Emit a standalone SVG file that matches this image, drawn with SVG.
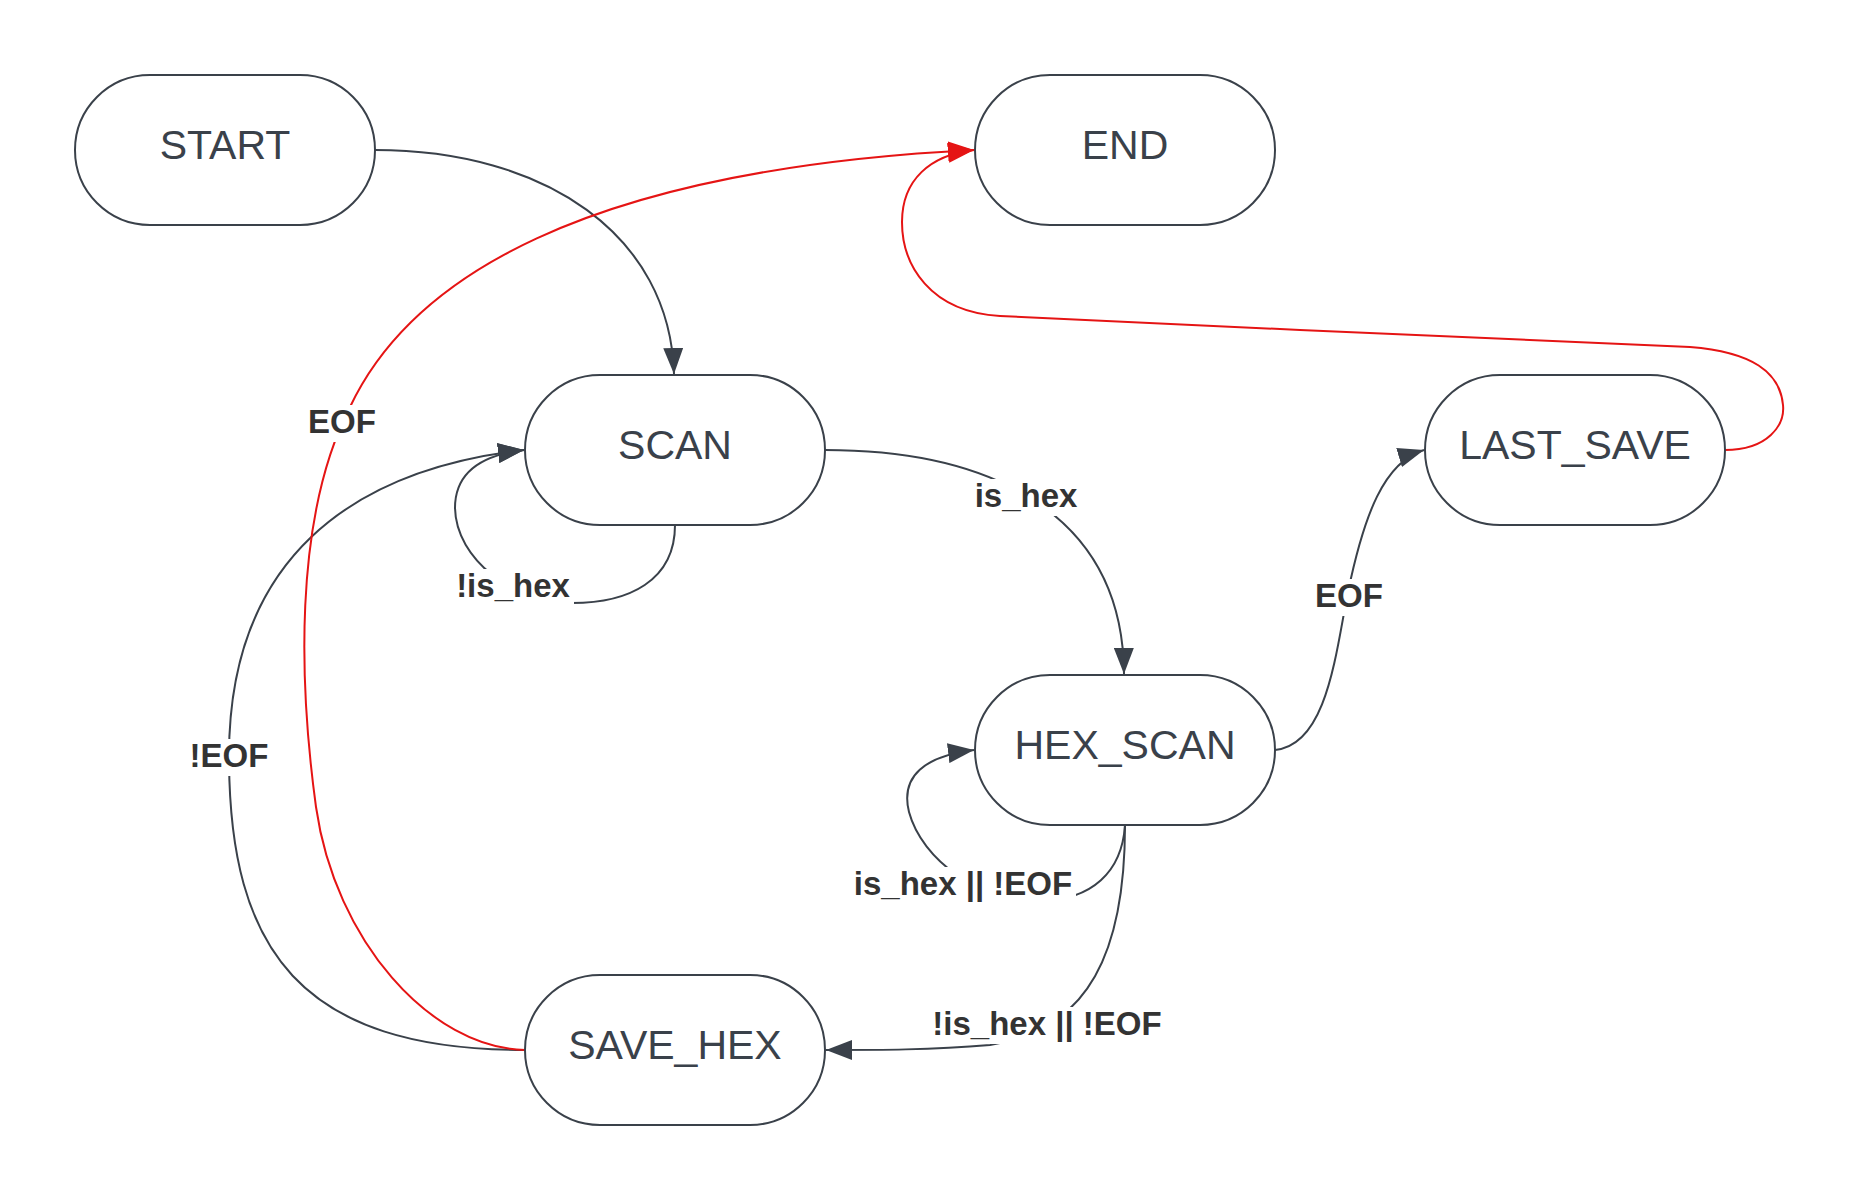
<svg xmlns="http://www.w3.org/2000/svg" width="1860" height="1200" viewBox="0 0 1860 1200">
<style>
.node rect{fill:#ffffff;stroke:#3a414a;stroke-width:2}
.node text{font-family:"Liberation Sans",Arial,sans-serif;font-size:41px;fill:#3a414a;text-anchor:middle}
.edge{fill:none;stroke:#3a414a;stroke-width:2}
.edge.red{stroke:#e51414}
.bg{fill:#ffffff}
.lbl{font-family:"Liberation Sans",Arial,sans-serif;font-size:33px;font-weight:bold;fill:#333333;text-anchor:middle}
</style>
<defs>
<marker id="arr" markerUnits="userSpaceOnUse" viewBox="0 0 26 20" refX="26" refY="10" markerWidth="26" markerHeight="20" orient="auto">
<path d="M0,0 L26,10 L0,20 z" fill="#3a414a"/>
</marker>
<marker id="arrRed" markerUnits="userSpaceOnUse" viewBox="0 0 26 20" refX="26" refY="10" markerWidth="26" markerHeight="20" orient="auto">
<path d="M0,0 L26,10 L0,20 z" fill="#e51414"/>
</marker>
</defs>
<rect width="1860" height="1200" fill="#ffffff"/>
<g id="connectors">
<path class="edge" d="M375,150 C545,150 670,235 674,374" marker-end="url(#arr)"/>
<path class="edge" d="M825,450 C1000,450 1123,520 1124,674" marker-end="url(#arr)"/>
<path class="edge" d="M675,525 C675,580 630,604 568,603 C515,602 456,560 455,508 C455,472 482,455 524,450" marker-end="url(#arr)"/>
<path class="edge" d="M525,1050 C300,1050 229,950 229,756 C229,560 350,470 524,450" marker-end="url(#arr)"/>
<path class="edge red" d="M525,1050 C430,1048 335,940 316,807 C300,690 292,520 350,407 C410,280 580,170 974,150" marker-end="url(#arrRed)"/>
<path class="edge" d="M1275,750 C1328,745 1336,650 1348,592 C1364,515 1384,462 1424,450" marker-end="url(#arr)"/>
<path class="edge" d="M1125,825 C1122,872 1092,900 1040,901 C980,902 922,860 909,812 C900,776 925,756 974,750" marker-end="url(#arr)"/>
<path class="edge" d="M1125,825 C1125,950 1090,1030 990,1045 C930,1050 880,1050 826,1050" marker-end="url(#arr)"/>
<path class="edge red" d="M1725,450 C1768,450 1785,425 1783,405 C1780,372 1752,352 1690,347 L1300,330 C1200,325 1100,320 1000,316 C930,312 902,265 902,222 C902,180 930,155 974,150" marker-end="url(#arrRed)"/>
<rect class="bg" x="304" y="405" width="76" height="37"/>
<text class="lbl" x="342" y="433">EOF</text>
<rect class="bg" x="452" y="569" width="122" height="37"/>
<text class="lbl" x="513" y="597">!is_hex</text>
<rect class="bg" x="970" y="479" width="112" height="37"/>
<text class="lbl" x="1026" y="507">is_hex</text>
<rect class="bg" x="1311" y="579" width="76" height="37"/>
<text class="lbl" x="1349" y="607">EOF</text>
<rect class="bg" x="185" y="739" width="88" height="37"/>
<text class="lbl" x="229" y="767">!EOF</text>
<rect class="bg" x="850" y="867" width="226" height="37"/>
<text class="lbl" x="963" y="895">is_hex || !EOF</text>
<rect class="bg" x="929" y="1007" width="237" height="37"/>
<text class="lbl" x="1047" y="1035">!is_hex || !EOF</text>
</g>
<g id="node-start" class="node"><rect x="75" y="75" width="300" height="150" rx="75"/><text x="225" y="159">START</text></g>
<g id="node-end" class="node"><rect x="975" y="75" width="300" height="150" rx="75"/><text x="1125" y="159">END</text></g>
<g id="node-scan" class="node"><rect x="525" y="375" width="300" height="150" rx="75"/><text x="675" y="459">SCAN</text></g>
<g id="node-last-save" class="node"><rect x="1425" y="375" width="300" height="150" rx="75"/><text x="1575" y="459">LAST_SAVE</text></g>
<g id="node-hex-scan" class="node"><rect x="975" y="675" width="300" height="150" rx="75"/><text x="1125" y="759">HEX_SCAN</text></g>
<g id="node-save-hex" class="node"><rect x="525" y="975" width="300" height="150" rx="75"/><text x="675" y="1059">SAVE_HEX</text></g>
</svg>
